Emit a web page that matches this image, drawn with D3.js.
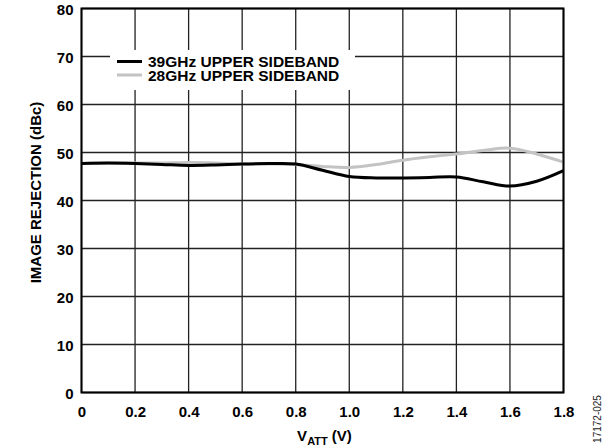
<!DOCTYPE html>
<html>
<head>
<meta charset="utf-8">
<script src="https://cdn.jsdelivr.net/npm/d3@7"></script>
<style>
  body { margin: 0; background: #fff; }
  text { font-family: Arial, "Liberation Sans", sans-serif; }
</style>
</head>
<body>
<div id="chart"></div>
<script>
// V_ATT sweep points (V)
var vatt = [0, 0.1, 0.2, 0.3, 0.4, 0.5, 0.6, 0.7, 0.8, 0.9, 1.0, 1.1, 1.2, 1.3, 1.4, 1.5, 1.6, 1.7, 1.8];
// image rejection (dBc)
var usb39 = [47.7, 47.8, 47.7, 47.5, 47.3, 47.4, 47.6, 47.7, 47.6, 46.3, 45.0, 44.7, 44.7, 44.8, 44.9, 43.9, 43.0, 44.0, 46.2];
var usb28 = [47.7, 47.8, 47.8, 47.8, 47.9, 47.8, 47.6, 47.6, 47.5, 47.1, 46.9, 47.5, 48.4, 49.1, 49.7, 50.4, 50.9, 49.7, 48.0];
var xTicks = [0, 0.2, 0.4, 0.6, 0.8, 1.0, 1.2, 1.4, 1.6, 1.8];
var xTickLabels = ["0", "0.2", "0.4", "0.6", "0.8", "1.0", "1.2", "1.4", "1.6", "1.8"];
var yTicks = [0, 10, 20, 30, 40, 50, 60, 70, 80];
var seriesNames = ["39GHz UPPER SIDEBAND", "28GHz UPPER SIDEBAND"];

var W = 605, H = 448;
var margin = {left: 81.5, right: 41.5, top: 8.5, bottom: 55.5};
var width = W - margin.left - margin.right,
    height = H - margin.top - margin.bottom;

var svg = d3.select("#chart").append("svg")
    .attr("width", W)
    .attr("height", H);

var g = svg.append("g")
    .attr("transform", "translate(" + margin.left + "," + margin.top + ")");

var x = d3.scaleLinear().domain([0, 1.8]).range([0, width]);
var y = d3.scaleLinear().domain([0, 80]).range([height, 0]);

// grid
g.append("g")
  .selectAll("line")
  .data(xTicks)
  .enter().append("line")
    .attr("x1", function(d) { return x(d); })
    .attr("x2", function(d) { return x(d); })
    .attr("y1", 0)
    .attr("y2", height)
    .attr("stroke", "#222")
    .attr("stroke-width", 1.3);

g.append("g")
  .selectAll("line")
  .data(yTicks)
  .enter().append("line")
    .attr("x1", 0)
    .attr("x2", width)
    .attr("y1", function(d) { return y(d); })
    .attr("y2", function(d) { return y(d); })
    .attr("stroke", "#222")
    .attr("stroke-width", 1.3);

// legend background hides the grid
g.append("rect")
    .attr("x", 110 - margin.left)
    .attr("y", 50 - margin.top)
    .attr("width", 245)
    .attr("height", 40)
    .attr("fill", "#fff");

// curves
var line = d3.line()
    .x(function(d) { return x(d[0]); })
    .y(function(d) { return y(d[1]); })
    .curve(d3.curveCatmullRom.alpha(0.5));

g.append("path")
    .datum(vatt.map(function(v, i) { return [v, usb28[i]]; }))
    .attr("fill", "none")
    .attr("stroke", "#c3c3c3")
    .attr("stroke-width", 3)
    .attr("d", line);

g.append("path")
    .datum(vatt.map(function(v, i) { return [v, usb39[i]]; }))
    .attr("fill", "none")
    .attr("stroke", "#000")
    .attr("stroke-width", 3)
    .attr("d", line);

// frame
g.append("rect")
    .attr("x", 0).attr("y", 0)
    .attr("width", width).attr("height", height)
    .attr("fill", "none")
    .attr("stroke", "#000")
    .attr("stroke-width", 2);

// axes (labels only)
var xAxis = g.append("g")
    .attr("transform", "translate(0," + height + ")")
    .call(d3.axisBottom(x).tickValues(xTicks).tickSize(0).tickPadding(14)
      .tickFormat(function(d, i) { return xTickLabels[i]; }));
xAxis.select(".domain").remove();
xAxis.selectAll("text")
    .attr("font-size", "15px")
    .attr("font-weight", "bold")
    .attr("fill", "#000")
    .attr("font-family", "Arial, 'Liberation Sans', sans-serif");

var yAxis = g.append("g")
    .call(d3.axisLeft(y).tickValues(yTicks).tickSize(0).tickPadding(8));
yAxis.select(".domain").remove();
yAxis.selectAll("text")
    .attr("font-size", "15px")
    .attr("font-weight", "bold")
    .attr("fill", "#000")
    .attr("dy", "0.42em")
    .attr("font-family", "Arial, 'Liberation Sans', sans-serif");

// legend
var leg = g.append("g")
    .attr("transform", "translate(" + (117 - margin.left) + "," + (61.5 - margin.top) + ")");
var legColors = ["#000", "#c3c3c3"];
seriesNames.forEach(function(name, i) {
    leg.append("line")
        .attr("x1", 0).attr("x2", 25)
        .attr("y1", i * 13.5).attr("y2", i * 13.5)
        .attr("stroke", legColors[i])
        .attr("stroke-width", 3);
    leg.append("text")
        .attr("x", 31)
        .attr("y", i * 13.5 + 5.8)
        .attr("font-size", "15.5px")
        .attr("font-weight", "bold")
        .attr("fill", "#000")
        .text(name);
});

// axis titles
svg.append("text")
    .attr("transform", "translate(41," + (margin.top + height / 2 - 8) + ") rotate(-90)")
    .attr("text-anchor", "middle")
    .attr("font-size", "15px")
    .attr("font-weight", "bold")
    .text("IMAGE REJECTION (dBc)");

var xt = svg.append("text")
    .attr("x", margin.left + width / 2 + 2)
    .attr("y", 441)
    .attr("text-anchor", "middle")
    .attr("font-size", "15px")
    .attr("font-weight", "bold");
xt.append("tspan").text("V");
xt.append("tspan").attr("font-size", "11px").attr("dy", 4).text("ATT");
xt.append("tspan").attr("dy", -4).text(" (V)");

// figure id
svg.append("text")
    .attr("transform", "translate(601,419) rotate(-90)")
    .attr("text-anchor", "middle")
    .attr("font-size", "10px")
    .attr("fill", "#222")
    .text("17172-025");
</script>
</body>
</html>
